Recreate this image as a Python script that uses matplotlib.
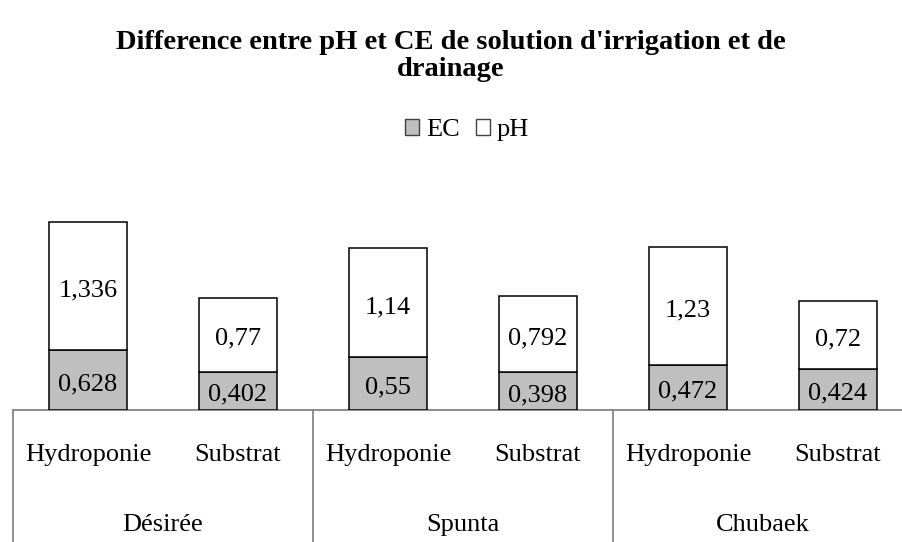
import matplotlib.pyplot as plt
from matplotlib.patches import Patch
import matplotlib.transforms as mtransforms

plt.rcParams['font.family'] = ['Liberation Serif', 'DejaVu Serif']

varieties = ['Désirée', 'Spunta', 'Chubaek']
systems = ['Hydroponie', 'Substrat']
ec = [0.628, 0.402, 0.55, 0.398, 0.472, 0.424]
ph = [1.336, 0.77, 1.14, 0.792, 1.23, 0.72]

fig = plt.figure(figsize=(9.02, 5.42), dpi=100)
# axes bottom sits on the category line, right edge runs off the figure
ax = fig.add_axes([13 / 902, 132 / 542, 900 / 902, 210 / 542])

x = list(range(len(ec)))
w = 0.515
ax.bar(x, ec, w, color='#bfbfbf', edgecolor='black', linewidth=1.1, zorder=3)
ax.bar(x, ph, w, bottom=ec, color='white', edgecolor='black', linewidth=1.1, zorder=3)

def fmt(v):
    return ('%g' % v).replace('.', ',')

for i in x:
    ax.annotate(fmt(ec[i]), (i, ec[i] / 2), xytext=(0, -3), textcoords='offset points',
                ha='center', va='center', fontsize=19, zorder=4)
    ax.annotate(fmt(ph[i]), (i, ec[i] + ph[i] / 2), xytext=(0, -3), textcoords='offset points',
                ha='center', va='center', fontsize=19, zorder=4)

ax.set_xlim(-0.5, 5.5)
ax.set_ylim(0, 2.194)
ax.axis('off')

# category axis: baseline, group separators and two rows of labels
trans = mtransforms.blended_transform_factory(ax.transData, ax.transAxes)
ax.plot([-0.5, 5.5], [0, 0], color='#868686', lw=1.3, transform=trans, clip_on=False)
for g in range(3):
    ax.plot([-0.5 + 2 * g] * 2, [0, -0.7], color='#868686', lw=1.3,
            transform=trans, clip_on=False)
for i in x:
    ax.text(i, -45 / 210, systems[i % 2], ha='center', va='center', fontsize=19,
            transform=trans)
for g, name in enumerate(varieties):
    ax.text(2 * g + 0.5, -115 / 210, name, ha='center', va='center', fontsize=19,
            transform=trans)

fig.text(0.5, 1 - 56 / 542, "Difference entre pH et CE de solution d'irrigation et de\ndrainage",
         ha='center', va='center', fontsize=20.5, fontweight='bold', linespacing=1.15)

handles = [Patch(facecolor='#bfbfbf', edgecolor='#404040', linewidth=1),
           Patch(facecolor='white', edgecolor='#404040', linewidth=1)]
fig.legend(handles, ['EC', 'pH'], loc='center', bbox_to_anchor=(467 / 902, 1 - 130 / 542),
           ncol=2, frameon=False, fontsize=19, handlelength=0.55, handleheight=0.55,
           handletextpad=0.25, columnspacing=0.6)

fig.savefig('out.png', dpi=100)
